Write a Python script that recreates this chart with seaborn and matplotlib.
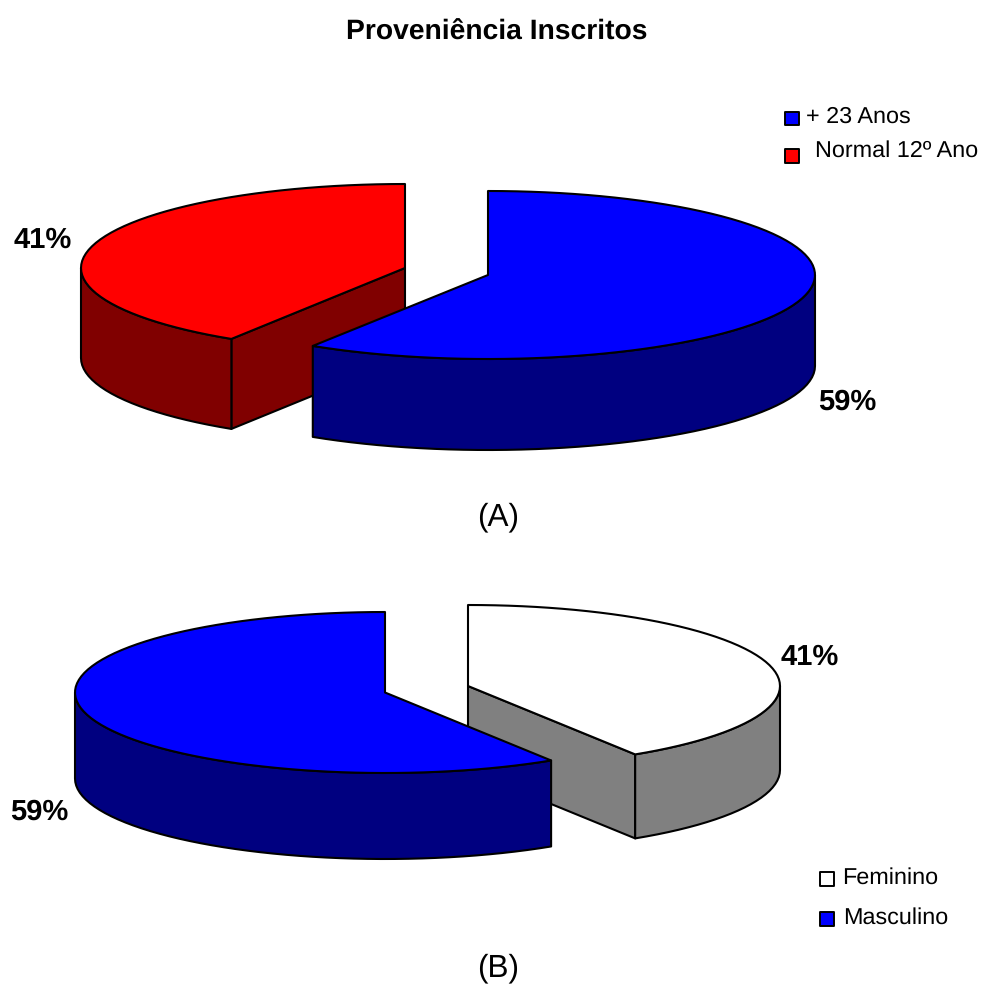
import numpy as np
import matplotlib
matplotlib.use('Agg')
import matplotlib.pyplot as plt
from matplotlib.patches import Polygon
import seaborn as sns

# data
labels_a = ['+ 23 Anos', 'Normal 12º Ano']
values_a = [59, 41]
colors_a = ['#0000ff', '#ff0000']
sides_a = ['#000080', '#800000']

labels_b = ['Feminino', 'Masculino']
values_b = [41, 59]
colors_b = ['#ffffff', '#0000ff']
sides_b = ['#808080', '#000080']

sns.set_theme(style="white")
plt.rcParams['font.family'] = ['Liberation Sans', 'DejaVu Sans']
plt.rcParams['text.hinting'] = 'none'

W, H = 981, 985
fig = plt.figure(figsize=(W / 100, H / 100), dpi=100)
ax = fig.add_axes([0, 0, 1, 1])
ax.set_xlim(0, W)
ax.set_ylim(H, 0)
ax.axis('off')


def rim(cx, cy, rx, ry, a0, a1, dy=0):
    # angles in degrees, clockwise from 12 o'clock
    n = max(int(abs(a1 - a0) / 2.5), 1)
    t = np.radians(np.linspace(a0, a1, n + 1))
    return np.column_stack([cx + rx * np.sin(t), cy - ry * np.cos(t) + dy])


def wedge(cx, cy, rx, ry, depth, a0, a1, top, side):
    kw = dict(edgecolor='black', linewidth=1.5, joinstyle='round')
    apex = np.array([[cx, cy]])
    down = np.array([0, depth])
    # cut faces, only the ones turned to the viewer
    for a, visible in ((a0, 180 < a0 < 360), (a1, 0 < a1 < 180)):
        if visible:
            p = rim(cx, cy, rx, ry, a, a)[:1]
            ax.add_patch(Polygon(np.vstack([apex, p, p + down, apex + down]),
                                 facecolor=side, zorder=ax.zo, **kw))
            ax.zo += 1
    # outer wall
    w0, w1 = max(a0, 90), min(a1, 270)
    if w1 > w0:
        arc = rim(cx, cy, rx, ry, w0, w1)
        ax.add_patch(Polygon(np.vstack([arc, arc[::-1] + down]),
                             facecolor=side, zorder=ax.zo, **kw))
        ax.zo += 1
    # top
    ax.add_patch(Polygon(np.vstack([apex, rim(cx, cy, rx, ry, a0, a1)]),
                         facecolor=top, zorder=ax.zo, **kw))
    ax.zo += 1


ax.zo = 2

# pie A: red slice sits behind the blue one
split_a = values_a[0] / sum(values_a) * 360
wedge(405, 268, 324, 84, 90, split_a, 360, colors_a[1], sides_a[1])
wedge(488, 275, 327, 84, 91, 0, split_a, colors_a[0], sides_a[0])

# pie B: white slice sits behind the blue one
split_b = values_b[0] / sum(values_b) * 360
wedge(468, 686, 312, 81, 84, 0, split_b, colors_b[0], sides_b[0])
wedge(385, 692.5, 310, 80.5, 86, split_b, 360, colors_b[1], sides_b[1])

# legend swatches
sns.scatterplot(x=[792, 792], y=[118.5, 156], hue=labels_a, palette=colors_a,
                marker='s', s=88, edgecolor='black', linewidth=1.4,
                legend=False, ax=ax, zorder=20)
sns.scatterplot(x=[827, 827], y=[879, 919], hue=labels_b, palette=colors_b,
                marker='s', s=88, edgecolor='black', linewidth=1.4,
                legend=False, ax=ax, zorder=20)

ax.set_xlim(0, W)
ax.set_ylim(H, 0)

ax.text(497, 32, 'Proveniência Inscritos', fontsize=20.3, fontweight='bold',
        ha='center', va='center', color='black')

legend_kw = dict(fontsize=16.85, ha='left', va='center', color='black')
ax.text(806, 117, labels_a[0], **legend_kw)
ax.text(815, 151, labels_a[1], **legend_kw)
ax.text(842, 878, labels_b[0], **legend_kw)
ax.text(843, 918, labels_b[1], **legend_kw)

pct_kw = dict(fontsize=21, fontweight='bold', ha='center', va='center', color='black')
ax.text(43, 240, f'{values_a[1]}%', **pct_kw)
ax.text(847, 402, f'{values_a[0]}%', **pct_kw)
ax.text(810, 657, f'{values_b[0]}%', **pct_kw)
ax.text(39, 812, f'{values_b[1]}%', **pct_kw)

ax.text(498, 517, '(A)', fontsize=22.7, ha='center', va='center', color='black')
ax.text(498, 968, '(B)', fontsize=22.7, ha='center', va='center', color='black')

plt.savefig('out.png', dpi=100)
plt.close()
